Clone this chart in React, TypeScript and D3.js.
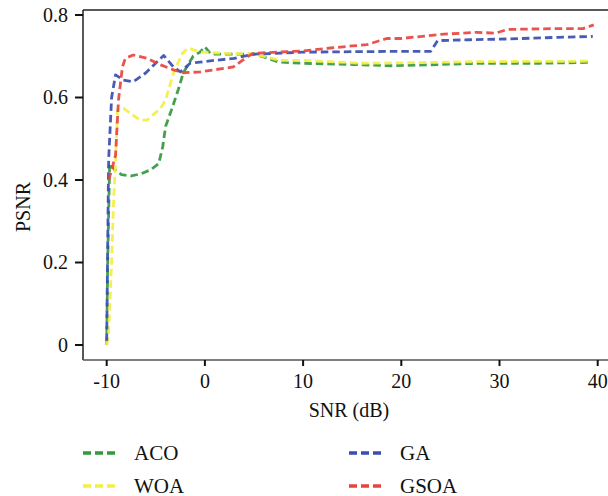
import React from "react";
import * as d3 from "d3";

const acoSnr = [-10, -9.9, -9.7, -9.2, -8.5, -7.5, -6.5, -5.5, -4.7, -4.3, -4, -3.4, -2.7, -2.2, -1.2, -0.5, 0, 0.6, 3, 5, 6.3, 7.5, 10, 15, 19, 24, 28, 34, 39];
const acoPsnr = [0.0, 0.2, 0.44, 0.425, 0.413, 0.41, 0.415, 0.425, 0.44, 0.48, 0.53, 0.57, 0.62, 0.66, 0.7, 0.71, 0.723, 0.705, 0.705, 0.705, 0.696, 0.686, 0.683, 0.68, 0.677, 0.68, 0.683, 0.683, 0.685];

const woaSnr = [-10, -9.8, -9.5, -9.3, -9.1, -8.9, -8.3, -7.5, -6.6, -5.9, -4.5, -4, -3.2, -2.3, -1.7, -0.5, 2, 5, 7.7, 10, 16, 20, 28, 39.3];
const woaPsnr = [0.0, 0.03, 0.2, 0.35, 0.44, 0.57, 0.574, 0.56, 0.545, 0.545, 0.574, 0.594, 0.659, 0.707, 0.72, 0.71, 0.707, 0.705, 0.69, 0.69, 0.683, 0.684, 0.687, 0.688];

const gaSnr = [-10, -9.85, -9.8, -9.5, -9.1, -8.3, -7.3, -6, -5.2, -4.2, -3.2, -2.5, -1.5, 1, 3, 5, 10, 15, 20, 23, 23.7, 27, 31, 36, 39.5];
const gaPsnr = [0.01, 0.35, 0.45, 0.6, 0.655, 0.642, 0.638, 0.66, 0.679, 0.702, 0.674, 0.662, 0.683, 0.69, 0.695, 0.705, 0.71, 0.711, 0.712, 0.712, 0.738, 0.74, 0.742, 0.746, 0.748];

const gsoaSnr = [-9.8, -9.5, -9.1, -8.8, -8.4, -8.1, -7.3, -5.9, -4.5, -3.2, -2.2, -0.5, 2.9, 4.1, 4.9, 10, 12.8, 15, 16.5, 18.5, 20, 24, 27.7, 29.6, 30.8, 35.5, 38.5, 39.6];
const gsoaPsnr = [0.4, 0.424, 0.46, 0.594, 0.674, 0.695, 0.703, 0.695, 0.679, 0.667, 0.66, 0.662, 0.674, 0.695, 0.707, 0.713, 0.72, 0.725, 0.728, 0.743, 0.743, 0.753, 0.758, 0.756, 0.765, 0.767, 0.767, 0.776];

const xTicks = [-10, 0, 10, 20, 30, 40];
const yTicks = [0, 0.2, 0.4, 0.6, 0.8];
const yTickLabels = ["0", "0.2", "0.4", "0.6", "0.8"];

const seriesNames = ["ACO", "WOA", "GA", "GSOA"];
const seriesColors = ["#33993f", "#f3ef45", "#3a4eaf", "#e8443f"];

export default function App() {
  const W = 608, H = 496;
  const left = 83, right = 612, top = 10, bottom = 360;
  const x = d3.scaleLinear().domain([-10, 40]).range([106.7, 597.7]);
  const y = d3.scaleLinear().domain([0, 0.8]).range([345, 15]);

  const data: [number, number][][] = [
    acoSnr.map((s, i) => [s, acoPsnr[i]]),
    woaSnr.map((s, i) => [s, woaPsnr[i]]),
    gaSnr.map((s, i) => [s, gaPsnr[i]]),
    gsoaSnr.map((s, i) => [s, gsoaPsnr[i]]),
  ];
  const lineFn = d3.line<[number, number]>().x(d => x(d[0])).y(d => y(d[1]));
  const font = "'Liberation Serif', 'DejaVu Serif', serif";
  const legendPos = [
    { lx: 83, ly: 453 },
    { lx: 83, ly: 486 },
    { lx: 349, ly: 453 },
    { lx: 349, ly: 486 },
  ];

  return (
    <svg width={W} height={H} style={{ position: "absolute", left: 0, top: 0, background: "#fff" }} fontFamily={font}>
      <defs>
        <clipPath id="plotclip">
          <rect x={left} y={top} width={right - left} height={bottom - top} />
        </clipPath>
      </defs>
      <g clipPath="url(#plotclip)">
        {data.map((d, i) => (
          <path key={i} d={lineFn(d) || ""} fill="none" stroke={seriesColors[i]} strokeWidth={2.8}
            strokeDasharray="7.5,4" strokeLinejoin="round" opacity={0.92} />
        ))}
      </g>
      <line x1={left} x2={W} y1={top} y2={top} stroke="#222" strokeWidth={1.5} />
      <line x1={left} x2={left} y1={top} y2={bottom} stroke="#222" strokeWidth={1.5} />
      <line x1={left} x2={W} y1={bottom} y2={bottom} stroke="#555" strokeWidth={1.5} />
      {yTicks.map((t, i) => (
        <g key={i}>
          <line x1={75} x2={left} y1={y(t)} y2={y(t)} stroke="#111" strokeWidth={2} />
          <text x={68} y={y(t) + 6.5} textAnchor="end" fontSize={20} fill="#111">{yTickLabels[i]}</text>
        </g>
      ))}
      {xTicks.map((t, i) => (
        <g key={i}>
          <line x1={x(t)} x2={x(t)} y1={bottom} y2={bottom + 6} stroke="#111" strokeWidth={2} />
          <text x={x(t)} y={388} textAnchor="middle" fontSize={20} fill="#111">{t}</text>
        </g>
      ))}
      <text x={349} y={417} textAnchor="middle" fontSize={20} fill="#111">SNR (dB)</text>
      <text transform="translate(30,207) rotate(-90)" textAnchor="middle" fontSize={20} fill="#111">PSNR</text>
      {seriesNames.map((n, i) => (
        <g key={n}>
          <line x1={legendPos[i].lx} x2={legendPos[i].lx + 32} y1={legendPos[i].ly} y2={legendPos[i].ly}
            stroke={seriesColors[i]} strokeWidth={3.5} strokeDasharray="8,4" />
          <text x={legendPos[i].lx + 51} y={legendPos[i].ly + 6.5} fontSize={21} fill="#111">{n}</text>
        </g>
      ))}
    </svg>
  );
}
